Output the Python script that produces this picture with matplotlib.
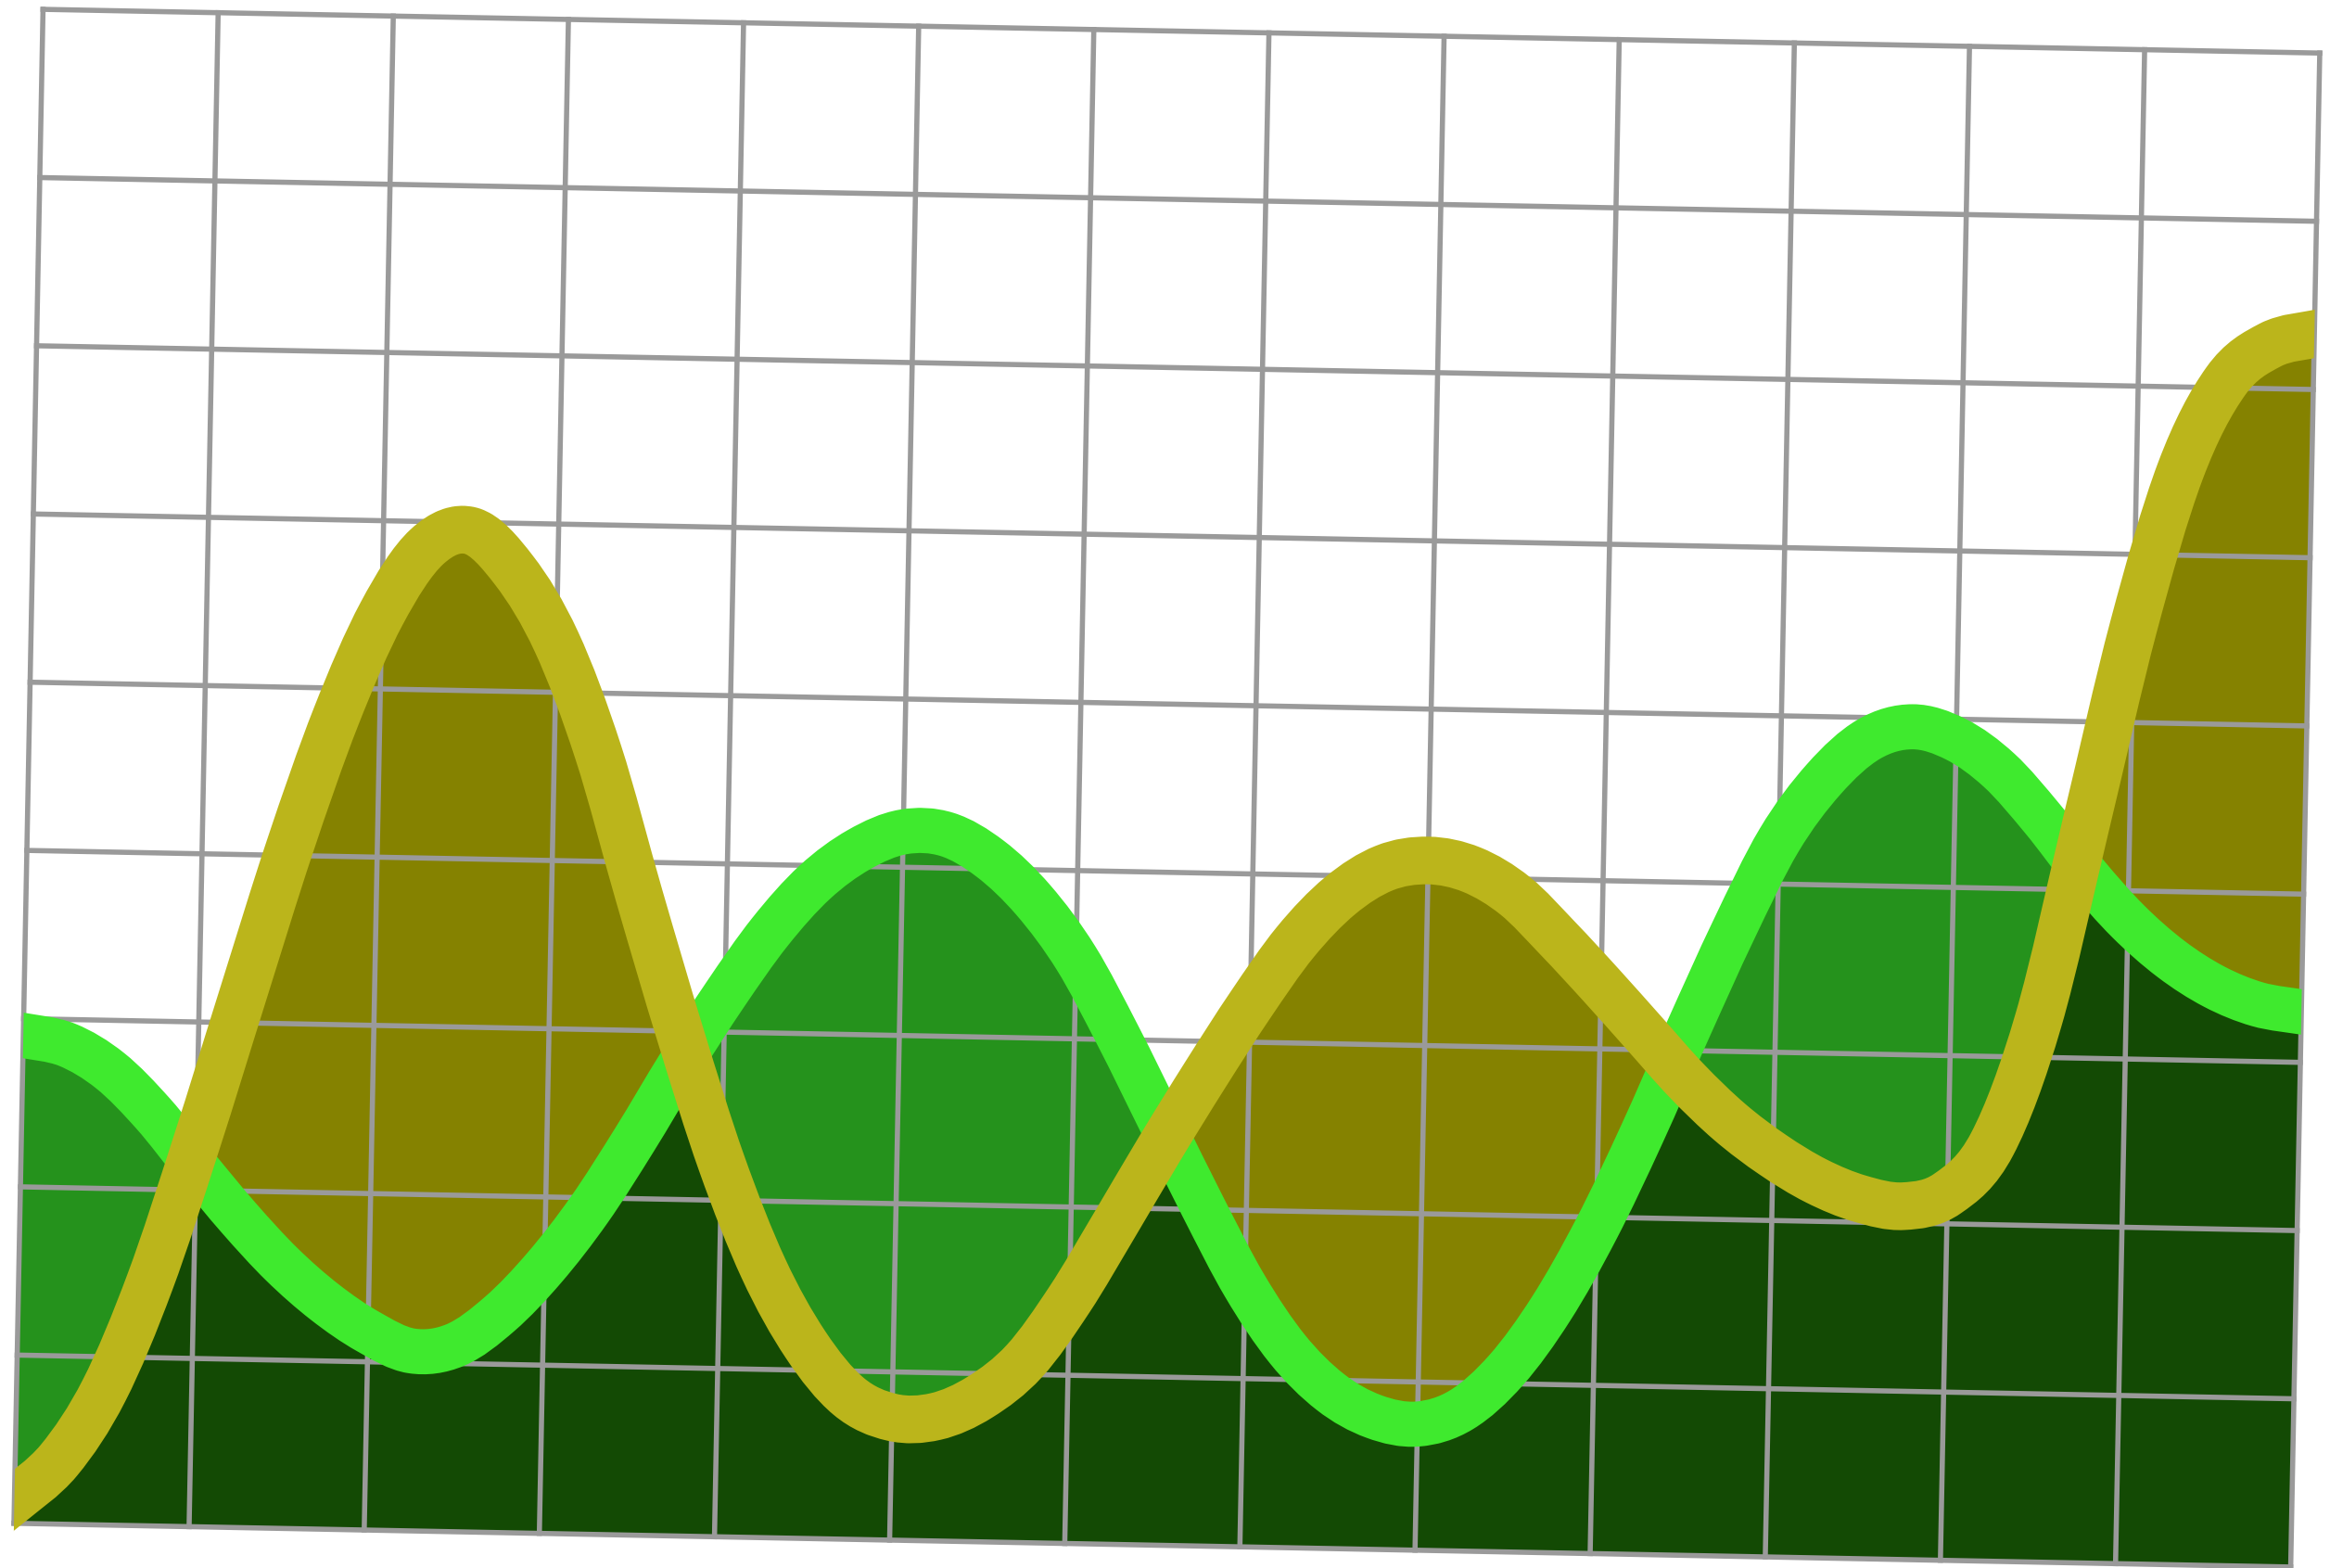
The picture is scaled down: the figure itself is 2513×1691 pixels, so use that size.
import numpy as np
import matplotlib.pyplot as plt
from matplotlib.path import Path
from matplotlib.patches import PathPatch
from matplotlib.transforms import Affine2D

# positions along the grid (13 columns x 9 rows)
x = np.arange(0, 13.25, 0.25)

green = [2.90, 2.85, 2.70, 2.45, 2.14, 1.84, 1.57, 1.35, 1.18, 1.07,
         1.11, 1.30, 1.58, 1.93, 2.35, 2.80, 3.22, 3.60, 3.90, 4.10,
         4.21, 4.20, 4.06, 3.82, 3.48, 3.02, 2.52, 2.02, 1.55, 1.18,
         0.93, 0.79, 0.75, 0.84, 1.08, 1.45, 1.93, 2.50, 3.12, 3.72,
         4.26, 4.63, 4.87, 4.95, 4.88, 4.70, 4.42, 4.10, 3.82, 3.60,
         3.44, 3.34, 3.30]

olive = [0.14, 0.38, 0.80, 1.45, 2.28, 3.17, 4.05, 4.83, 5.45, 5.85,
         5.95, 5.72, 5.30, 4.65, 3.80, 2.98, 2.22, 1.60, 1.15, 0.85,
         0.73, 0.74, 0.86, 1.08, 1.45, 1.90, 2.36, 2.80, 3.22, 3.60,
         3.88, 4.05, 4.10, 4.05, 3.90, 3.65, 3.38, 3.10, 2.82, 2.58,
         2.39, 2.24, 2.14, 2.10, 2.18, 2.48, 3.22, 4.39, 5.57, 6.50,
         7.04, 7.26, 7.33]

n_cols, n_rows = 13, 9


def smooth(xs, ys):
    # smooth curve through the points (Catmull-Rom as cubic Bezier)
    p = np.column_stack([xs, ys])
    n = len(p)
    verts = [p[0]]
    codes = [Path.MOVETO]
    for i in range(n - 1):
        p0 = p[i - 1] if i > 0 else p[i]
        p3 = p[i + 2] if i + 2 < n else p[i + 1]
        verts += [p[i] + (p[i + 1] - p0) / 6, p[i + 1] - (p3 - p[i]) / 6, p[i + 1]]
        codes += [Path.CURVE4] * 3
    return verts, codes


def area(xs, ys):
    verts, codes = smooth(xs, ys)
    verts += [(xs[-1], 0), (xs[0], 0), (xs[0], 0)]
    codes += [Path.LINETO, Path.LINETO, Path.CLOSEPOLY]
    return Path(verts, codes)


W, H = 2513, 1691
fig = plt.figure(figsize=(W / 100, H / 100), dpi=100)
fig.patch.set_facecolor('white')

# axes box before rotation (pixels)
bw, bh = 2456, 1633
cx, cy = 1258.5, 841.0
ax = fig.add_axes([(cx - bw / 2) / W, (cy - bh / 2) / H, bw / W, bh / H])
ax.set_xlim(0, n_cols)
ax.set_ylim(0, n_rows)
ax.axis('off')

# whole chart is slightly tilted clockwise
rot = Affine2D().rotate_deg_around(cx, cy, -1.1)
tf = ax.transData + rot

# fills: green, olive, and their overlap darker
g_area = PathPatch(area(x, green), facecolor='#25921c', lw=0, transform=tf, zorder=1)
o_area = PathPatch(area(x, olive), facecolor='#858200', lw=0, transform=tf, zorder=1)
both = PathPatch(area(x, olive), facecolor='#134a04', lw=0, transform=tf, zorder=1.5)
for p in (g_area, o_area, both):
    ax.add_patch(p)
g_area.set_clip_on(False)
o_area.set_clip_on(False)
both.set_clip_path(g_area)
both.set_clip_box(None)

# grid
for i in range(n_cols + 1):
    ax.plot([i, i], [0, n_rows], color='#9a9a9a', lw=4.0, transform=tf,
            clip_on=False, solid_capstyle='projecting', zorder=2)
for j in range(n_rows + 1):
    ax.plot([0, n_cols], [j, j], color='#9a9a9a', lw=4.0, transform=tf,
            clip_on=False, solid_capstyle='projecting', zorder=2)

# curves, cut straight at the left and right borders
band = PathPatch(Path([(0, -3), (n_cols, -3), (n_cols, n_rows + 3), (0, n_rows + 3), (0, -3)]),
                 transform=tf)
for ys, col, lw, z in ((green, '#3fea2e', 35, 3), (olive, '#bbb51b', 37, 4)):
    verts, codes = smooth(x, ys)
    line = PathPatch(Path(verts, codes), fill=False, edgecolor=col, lw=lw,
                     capstyle='projecting', joinstyle='round', transform=tf, zorder=z)
    ax.add_patch(line)
    line.set_clip_path(band)
    line.set_clip_box(None)

fig.savefig('out.png', dpi=100, facecolor='white')
